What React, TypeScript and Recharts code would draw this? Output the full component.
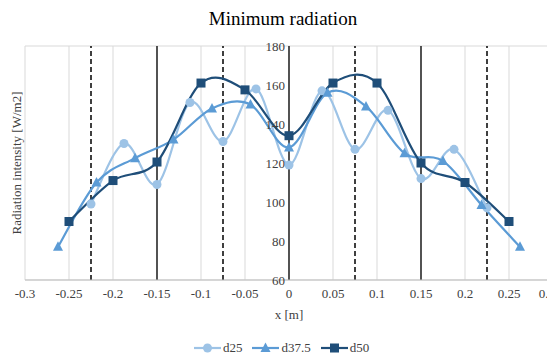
import React from "react";
import {
  LineChart,
  Line,
  XAxis,
  YAxis,
  CartesianGrid,
  ReferenceLine,
  ReferenceDot,
} from "recharts";

// d25 measured at 0.0375 m spacing
const d25X = [-0.225, -0.1875, -0.15, -0.1125, -0.075, -0.0375, 0, 0.0375, 0.075, 0.1125, 0.15, 0.1875, 0.225];
const d25Y = [99, 130, 109, 151, 131, 158, 119, 157, 127, 147, 112, 127, 97];

// d37.5 measured at 0.04375 m spacing
const d375X = [-0.2625, -0.21875, -0.175, -0.13125, -0.0875, -0.04375, 0, 0.04375, 0.0875, 0.13125, 0.175, 0.21875, 0.2625];
const d375Y = [77, 110, 122.5, 132, 148, 150, 128, 156, 149, 125, 121, 98.5, 77];

// d50 measured at 0.05 m spacing
const d50X = [-0.25, -0.2, -0.15, -0.1, -0.05, 0, 0.05, 0.1, 0.15, 0.2, 0.25];
const d50Y = [90, 111, 120.5, 161, 157.5, 134, 161, 161, 120, 110, 90];

const xTicks = [-0.3, -0.25, -0.2, -0.15, -0.1, -0.05, 0, 0.05, 0.1, 0.15, 0.2, 0.25, 0.3];
const yTicks = [60, 80, 100, 120, 140, 160, 180];
const solidLines = [-0.15, 0, 0.15];
const dashedLines = [-0.225, -0.075, 0.075, 0.225];

const toRows = (xs: number[], ys: number[]) => xs.map((x, i) => ({ x, y: ys[i] }));

const FONT = "'Liberation Serif', 'Times New Roman', serif";
const C25 = "#9dc3e6";
const C375 = "#5b9bd5";
const C50 = "#1f4e79";
const TXT = "#404040";

// Excel-like smoothing (Catmull-Rom as cubic bezier)
function excelSmooth(context: any) {
  let pts: number[][] = [];
  return {
    areaStart() {},
    areaEnd() {},
    lineStart() {
      pts = [];
    },
    point(x: number, y: number) {
      pts.push([+x, +y]);
    },
    lineEnd() {
      const n = pts.length;
      if (!n) return;
      context.moveTo(pts[0][0], pts[0][1]);
      for (let i = 0; i < n - 1; i++) {
        const p0 = pts[Math.max(i - 1, 0)];
        const p1 = pts[i];
        const p2 = pts[i + 1];
        const p3 = pts[Math.min(i + 2, n - 1)];
        context.bezierCurveTo(
          p1[0] + (p2[0] - p0[0]) / 6,
          p1[1] + (p2[1] - p0[1]) / 6,
          p2[0] - (p3[0] - p1[0]) / 6,
          p2[1] - (p3[1] - p1[1]) / 6,
          p2[0],
          p2[1]
        );
      }
    },
  };
}

function Marker({ shape, color, cx, cy }: { shape: string; color: string; cx: number; cy: number }) {
  if (shape === "circle") return <circle cx={cx} cy={cy} r={4.5} fill={color} />;
  if (shape === "triangle")
    return <polygon points={`${cx},${cy - 5.5} ${cx - 5},${cy + 4} ${cx + 5},${cy + 4}`} fill={color} />;
  return <rect x={cx - 4.5} y={cy - 4.5} width={9} height={9} fill={color} />;
}

const makeDot = (shape: string, color: string) => (props: any) =>
  <Marker key={`${shape}-${props.index}`} shape={shape} color={color} cx={props.cx} cy={props.cy} />;

const legendItems = [
  { name: "d25", color: C25, shape: "circle" },
  { name: "d37.5", color: C375, shape: "triangle" },
  { name: "d50", color: C50, shape: "square" },
];

function YLabel(props: any) {
  const { viewBox } = props;
  const x = viewBox.x + 8;
  const y = viewBox.y + viewBox.height / 2;
  return (
    <text x={x} y={y} transform={`rotate(-90 ${x} ${y})`} textAnchor="middle" dominantBaseline="central" fontSize={13} fill={TXT}>
      Radiation intensity [W/m2]
    </text>
  );
}

export default function App() {
  return (
    <div style={{ position: "relative", width: 547, height: 347, fontFamily: FONT }}>
      <style>{`.chart-wrap text, .chart-wrap tspan { font-family: ${FONT} !important; }`}</style>
      <div style={{ position: "absolute", top: 0, left: 0, width: 550, textAlign: "center", fontSize: 19, color: "#000" }}>
        Minimum radiation
      </div>
      <div className="chart-wrap">
        <LineChart width={547} height={347} margin={{ top: 38, right: 2, bottom: 0, left: 0 }}>
          <CartesianGrid stroke="#d9d9d9" strokeWidth={1} />
          <XAxis
            type="number"
            dataKey="x"
            domain={[-0.3, 0.3]}
            ticks={xTicks}
            allowDataOverflow
            height={75}
            tickLine={false}
            axisLine={{ stroke: "#bfbfbf" }}
            tick={{ fontSize: 13, fill: TXT }}
            tickMargin={3}
            label={{ value: "x [m]", position: "insideBottom", offset: 36, fontSize: 13, fill: TXT }}
          />
          <YAxis
            type="number"
            domain={[60, 180]}
            ticks={yTicks}
            width={17}
            tick={false}
            tickLine={false}
            axisLine={false}
            label={<YLabel />}
          />
          {solidLines.map((v) => (
            <ReferenceLine key={`s${v}`} x={v} stroke="#000" strokeWidth={1.3} />
          ))}
          {dashedLines.map((v) => (
            <ReferenceLine key={`d${v}`} x={v} stroke="#000" strokeWidth={1.5} strokeDasharray="5 3" />
          ))}
          {yTicks.map((v) => (
            <ReferenceDot
              key={`yl${v}`}
              x={0}
              y={v}
              r={0}
              stroke="none"
              fill="none"
              label={{ value: v, position: "left", offset: 4, fontSize: 13, fill: TXT }}
            />
          ))}
          <Line
            data={toRows(d25X, d25Y)}
            dataKey="y"
            name="d25"
            type={excelSmooth as any}
            stroke={C25}
            strokeWidth={2.2}
            dot={makeDot("circle", C25)}
            activeDot={false}
            isAnimationActive={false}
          />
          <Line
            data={toRows(d375X, d375Y)}
            dataKey="y"
            name="d37.5"
            type={excelSmooth as any}
            stroke={C375}
            strokeWidth={2.2}
            dot={makeDot("triangle", C375)}
            activeDot={false}
            isAnimationActive={false}
          />
          <Line
            data={toRows(d50X, d50Y)}
            dataKey="y"
            name="d50"
            type={excelSmooth as any}
            stroke={C50}
            strokeWidth={2.2}
            dot={makeDot("square", C50)}
            activeDot={false}
            isAnimationActive={false}
          />
        </LineChart>
      </div>
      <div style={{ position: "absolute", top: 332, left: 0, width: 547, display: "flex", justifyContent: "center", gap: 10, fontSize: 13, color: TXT }}>
        {legendItems.map((it) => (
          <div key={it.name} style={{ display: "flex", alignItems: "center", gap: 2 }}>
            <svg width={27} height={14}>
              <line x1={0} y1={7} x2={27} y2={7} stroke={it.color} strokeWidth={2.2} />
              <Marker shape={it.shape} color={it.color} cx={13.5} cy={7} />
            </svg>
            <span>{it.name}</span>
          </div>
        ))}
      </div>
    </div>
  );
}
